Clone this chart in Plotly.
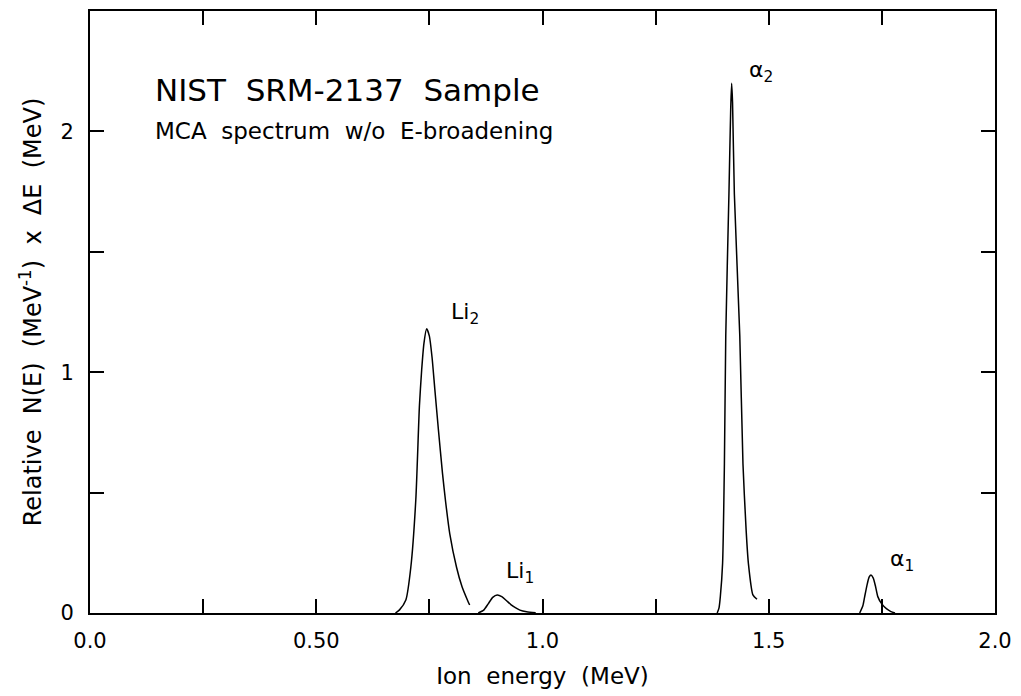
import plotly.graph_objects as go

# ---- data ----
li2_energy = [0.675, 0.684, 0.698, 0.709, 0.720, 0.728, 0.733, 0.738, 0.744, 0.750,
              0.756, 0.762, 0.770, 0.779, 0.786, 0.795, 0.810, 0.822, 0.834, 0.839]
li2_counts = [0.0, 0.013, 0.054, 0.19, 0.47, 0.86, 1.01, 1.12, 1.18, 1.15,
              1.06, 0.93, 0.76, 0.58, 0.46, 0.33, 0.19, 0.11, 0.054, 0.033]

li1_energy = [0.858, 0.870, 0.880, 0.890, 0.900, 0.910, 0.920, 0.930, 0.940, 0.950, 0.965, 0.985]
li1_counts = [0.0, 0.012, 0.038, 0.065, 0.075, 0.068, 0.052, 0.035, 0.022, 0.012, 0.005, 0.001]

a2_energy = [1.386, 1.390, 1.393, 1.398, 1.402, 1.405, 1.412, 1.416, 1.418, 1.420,
             1.424, 1.436, 1.443, 1.450, 1.455, 1.465, 1.474]
a2_counts = [0.0, 0.02, 0.068, 0.206, 0.62, 1.15, 1.74, 2.10, 2.20, 2.12,
             1.74, 1.15, 0.62, 0.344, 0.206, 0.075, 0.057]

a1_energy = [1.701, 1.708, 1.712, 1.718, 1.722, 1.726, 1.731, 1.736, 1.741, 1.749, 1.760, 1.770, 1.779]
a1_counts = [0.0, 0.03, 0.068, 0.123, 0.150, 0.158, 0.145, 0.11, 0.068, 0.04, 0.018, 0.006, 0.0]

x_tickvals = [0.0, 0.5, 1.0, 1.5, 2.0]
x_ticktext = ["0.0", "0.50", "1.0", "1.5", "2.0"]
x_minor_ticks = [0.25, 0.75, 1.25, 1.75]
y_tickvals = [0.0, 1.0, 2.0]
y_ticktext = ["0", "1", "2"]
y_minor_ticks = [0.5, 1.5]

peak_labels = ["Li<sub>2</sub>", "Li<sub>1</sub>", "α<sub>2</sub>", "α<sub>1</sub>"]
peak_label_x = [0.829, 0.950, 1.482, 1.795]
peak_label_y = [1.243, 0.17, 2.25, 0.22]

FONT = "DejaVu Sans"

fig = go.Figure()
for xs, ys in [(li2_energy, li2_counts), (li1_energy, li1_counts),
               (a2_energy, a2_counts), (a1_energy, a1_counts)]:
    fig.add_trace(go.Scatter(x=xs, y=ys, mode="lines",
                             line=dict(color="black", width=1.5, shape="spline", smoothing=0.6),
                             showlegend=False, hoverinfo="x+y"))

axis_common = dict(showgrid=False, zeroline=False, showline=True, linecolor="black",
                   linewidth=2, mirror="ticks", ticks="inside", ticklen=14,
                   tickwidth=1.5, tickcolor="black",
                   tickfont=dict(family=FONT, size=21, color="black"))

fig.update_xaxes(range=[0, 2.0], tickmode="array", tickvals=x_tickvals, ticktext=x_ticktext,
                 minor=dict(tickmode="array", tickvals=x_minor_ticks, ticks="inside",
                            ticklen=14, tickwidth=1.5, tickcolor="black", showgrid=False),
                 ticklabelstandoff=8,
                 title=dict(text="Ion  energy  (MeV)", font=dict(family=FONT, size=23, color="black"),
                            standoff=16),
                 **axis_common)
fig.update_yaxes(range=[0, 2.5], tickmode="array", tickvals=y_tickvals, ticktext=y_ticktext,
                 minor=dict(tickmode="array", tickvals=y_minor_ticks, ticks="inside",
                            ticklen=14, tickwidth=1.5, tickcolor="black", showgrid=False),
                 ticklabelstandoff=10,
                 title=dict(text="Relative  N(E)  (MeV<sup>-1</sup>)  x  ΔE  (MeV)",
                            font=dict(family=FONT, size=24, color="black"), standoff=12),
                 **axis_common)

annotations = []
for t, x, y in zip(peak_labels, peak_label_x, peak_label_y):
    annotations.append(dict(text=t, x=x, y=y, xref="x", yref="y", showarrow=False,
                            xanchor="center", yanchor="middle",
                            font=dict(family=FONT, size=22, color="black")))
annotations.append(dict(text="NIST  SRM-2137  Sample", x=0.0695, y=0.869, xref="paper", yref="paper",
                        showarrow=False, xanchor="left", yanchor="middle",
                        font=dict(family=FONT, size=31, color="black")))
annotations.append(dict(text="MCA  spectrum  w/o  E-broadening", x=0.0695, y=0.800, xref="paper",
                        yref="paper", showarrow=False, xanchor="left", yanchor="middle",
                        font=dict(family=FONT, size=23, color="black")))

fig.update_layout(width=1021, height=696, margin=dict(l=90, r=24, t=9, b=83),
                  paper_bgcolor="white", plot_bgcolor="white",
                  annotations=annotations, showlegend=False)

fig.write_html("out.html")
